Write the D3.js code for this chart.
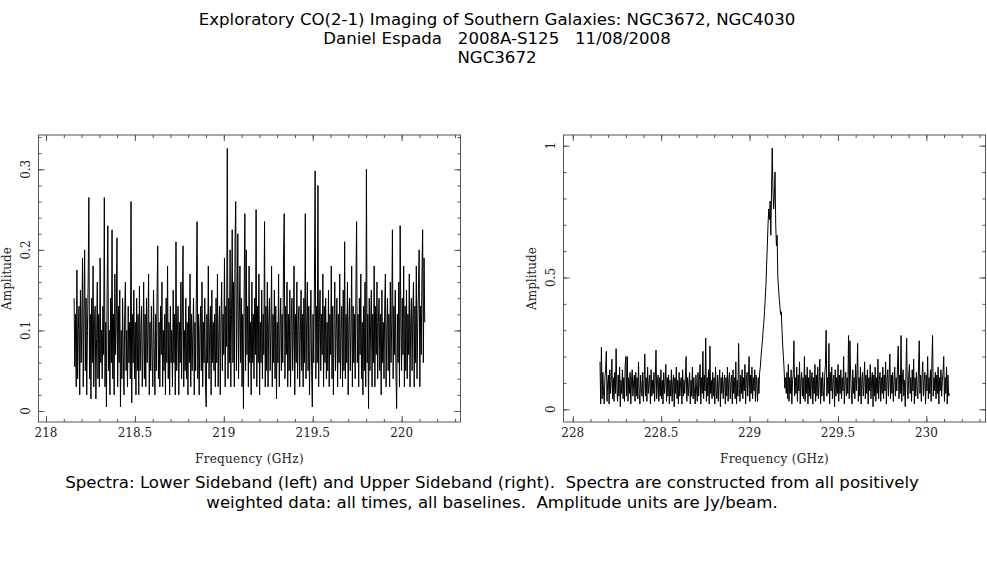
<!DOCTYPE html>
<html>
<head>
<meta charset="utf-8">
<script src="https://cdn.jsdelivr.net/npm/d3@7"></script>
<style>
  html, body { margin: 0; padding: 0; background: #fff; }
  svg { display: block; }
</style>
</head>
<body>
<svg id="chart" width="987" height="567"></svg>
<script>
const titleLines = [
  'Exploratory CO(2-1) Imaging of Southern Galaxies: NGC3672, NGC4030',
  'Daniel Espada\u00a0\u00a0\u00a02008A-S125\u00a0\u00a0\u00a011/08/2008',
  'NGC3672'
];
const captionLines = [
  'Spectra: Lower Sideband (left) and Upper Sideband (right).\u00a0\u00a0Spectra are constructed from all positively',
  'weighted data: all times, all baselines.\u00a0\u00a0Amplitude units are Jy/beam.'
];

// lower sideband: first / last channel frequency (GHz) and amplitudes (Jy/beam)
const lsbFirst = 218.158, lsbLast = 220.13;
const lsbAmp = [
  .14,.055,.12,.03,.175,.04,.1,.13,.02,.15,.06,.11,.19,.03,.12,.2,.05,.14,.02,.1,
  .16,.265,.04,.12,.015,.14,.06,.18,.03,.11,.13,.015,.09,.16,.04,.12,.03,.19,.06,.1,
  .04,.13,.07,.265,.03,.11,.005,.15,.23,.05,.1,.02,.14,.06,.225,.04,.12,.02,.17,.07,
  .11,.215,.03,.13,.06,.15,.005,.1,.04,.14,.07,.02,.12,.16,.05,.1,.03,.13,.06,.11,
  .04,.26,.01,.12,.06,.15,.04,.11,.02,.14,.05,.12,.02,.155,.05,.1,.13,.03,.08,.16,
  .04,.12,.03,.14,.06,.1,.17,.02,.11,.05,.13,.07,.03,.15,.08,.02,.12,.05,.14,.205,
  .04,.11,.03,.13,.07,.16,.03,.1,.05,.12,.02,.14,.06,.18,.04,.11,.02,.13,.06,.1,
  .03,.15,.06,.12,.02,.21,.05,.1,.13,.02,.11,.06,.16,.04,.12,.205,.03,.1,.05,.14,
  .04,.11,.02,.13,.06,.17,.03,.12,.05,.1,.14,.02,.11,.05,.15,.235,.04,.12,.02,.1,
  .13,.05,.16,.03,.11,.06,.14,.03,.005,.12,.06,.18,.04,.1,.13,.02,.15,.06,.11,.05,
  .12,.03,.14,.06,.17,.03,.1,.13,.02,.11,.16,.05,.12,.07,.19,.03,.13,.08,.326,.04,
  .14,.06,.2,.03,.12,.225,.06,.16,.03,.21,.26,.05,.13,.22,.04,.11,.18,.06,.14,.03,
  .12,.003,.15,.245,.05,.2,.07,.13,.03,.18,.06,.11,.02,.16,.06,.12,.04,.14,.07,.25,
  .03,.13,.06,.17,.02,.11,.06,.15,.04,.12,.07,.235,.03,.13,.05,.16,.03,.11,.14,.05,
  .1,.18,.03,.12,.06,.15,.04,.13,.015,.11,.06,.17,.03,.1,.14,.05,.12,.06,.19,.245,
  .04,.13,.07,.16,.03,.12,.05,.15,.03,.11,.14,.05,.1,.18,.02,.12,.06,.16,.04,.11,
  .13,.03,.1,.15,.05,.12,.03,.14,.06,.245,.04,.11,.16,.05,.13,.02,.1,.15,.05,.005,
  .12,.06,.16,.298,.04,.13,.06,.28,.03,.11,.15,.05,.12,.07,.17,.03,.13,.06,.14,.04,
  .11,.05,.15,.03,.12,.07,.18,.04,.13,.02,.11,.16,.05,.1,.14,.03,.12,.06,.17,.04,
  .1,.13,.03,.15,.05,.21,.04,.12,.06,.16,.02,.11,.14,.05,.1,.18,.03,.13,.06,.12,
  .04,.15,.235,.06,.12,.03,.14,.07,.17,.04,.11,.02,.13,.05,.16,.03,.3,.06,.12,.003,
  .14,.05,.11,.15,.03,.12,.06,.18,.03,.13,.07,.16,.04,.11,.14,.05,.12,.02,.15,.06,
  .11,.04,.13,.17,.03,.1,.14,.05,.12,.03,.16,.06,.11,.225,.04,.13,.07,.15,.05,.003,
  .12,.06,.16,.03,.23,.11,.05,.14,.07,.18,.03,.13,.05,.15,.04,.12,.07,.17,.03,.11,
  .14,.05,.12,.16,.03,.13,.06,.18,.04,.11,.15,.2,.03,.13,.07,.17,.225,.06,.19,.11
];

// upper sideband, CO(2-1) line near 229.13 GHz
const usbFirst = 228.154, usbLast = 230.13;
const usbAmp = [
  .18,.02,.235,.04,.14,.07,.02,.12,.15,.22,.03,.1,.13,.02,.15,.06,.11,.19,.04,.12,
  .03,.14,.06,.23,.09,.03,.13,.05,.16,.01,.11,.06,.15,.04,.12,.03,.17,.2,.05,.2,
  .03,.12,.06,.14,.02,.11,.15,.05,.1,.13,.03,.14,.05,.12,.04,.18,.06,.02,.13,.08,
  .05,.14,.03,.11,.21,.05,.12,.03,.16,.06,.1,.13,.02,.15,.05,.11,.06,.14,.03,.12,
  .225,.04,.1,.13,.03,.12,.05,.15,.04,.11,.02,.14,.06,.1,.17,.03,.12,.05,.13,.02,
  .11,.05,.15,.03,.1,.13,.01,.12,.06,.16,.04,.11,.02,.14,.05,.1,.12,.02,.15,.05,
  .11,.06,.13,.2,.03,.12,.05,.1,.14,.02,.11,.05,.16,.04,.12,.06,.02,.13,.07,.03,
  .14,.05,.11,.17,.02,.12,.06,.22,.04,.13,.07,.27,.03,.12,.05,.15,.02,.24,.06,.11,
  .04,.14,.05,.12,.02,.16,.07,.04,.13,.03,.11,.15,.01,.12,.06,.14,.04,.1,.13,.02,
  .12,.05,.16,.03,.11,.14,.04,.1,.13,.02,.15,.06,.12,.04,.18,.02,.11,.05,.25,.08,
  .03,.13,.06,.15,.04,.12,.07,.17,.02,.11,.14,.05,.12,.2,.03,.13,.06,.16,.04,.12,
  .07,.15,.03,.13,.09,.03,.12,.06,.14,.16,.2,.23,.26,.3,.33,.37,.42,.47,.55,.62,
  .7,.76,.72,.79,.66,.82,.991,.84,.76,.81,.9,.7,.62,.66,.5,.46,.42,.39,.36,.37,
  .3,.24,.2,.15,.08,.12,.06,.14,.04,.17,.03,.12,.06,.15,.02,.11,.13,.26,.05,.12,
  .06,.16,.03,.13,.07,.18,.02,.11,.14,.05,.12,.04,.2,.03,.13,.06,.16,.02,.12,.05,
  .15,.04,.11,.14,.02,.12,.06,.17,.03,.13,.05,.16,.04,.11,.19,.02,.12,.05,.14,.07,
  .03,.13,.17,.3,.05,.12,.06,.25,.02,.14,.07,.16,.04,.11,.13,.01,.15,.05,.12,.06,
  .17,.03,.13,.06,.15,.04,.12,.07,.2,.02,.11,.14,.05,.12,.06,.28,.04,.26,.13,.06,
  .02,.15,.06,.12,.04,.17,.07,.13,.25,.03,.12,.05,.16,.02,.11,.14,.05,.1,.18,.04,
  .13,.06,.15,.02,.12,.07,.17,.04,.11,.14,.01,.13,.05,.16,.03,.12,.06,.19,.04,.11,
  .14,.03,.12,.06,.16,.04,.13,.07,.18,.02,.11,.15,.05,.12,.21,.04,.13,.06,.14,.03,
  .11,.16,.05,.12,.07,.17,.24,.04,.13,.06,.28,.03,.12,.15,.05,.11,.01,.14,.27,.07,
  .04,.13,.17,.06,.12,.03,.15,.07,.19,.02,.12,.05,.14,.08,.04,.16,.26,.06,.13,.03,
  .12,.18,.05,.11,.14,.02,.13,.07,.2,.04,.12,.06,.15,.03,.17,.28,.05,.12,.07,.14,
  .04,.13,.06,.16,.02,.12,.07,.15,.05,.11,.14,.2,.03,.12,.06,.16,.02,.13,.05,.06
];

const lsbXTicks = [218, 218.5, 219, 219.5, 220];
const lsbYTicks = [0, 0.1, 0.2, 0.3];
const usbXTicks = [228, 228.5, 229, 229.5, 230];
const usbYTicks = [0, 0.5, 1];

const svg = d3.select('#chart');
const plotFont = 'DejaVu Serif, serif';

svg.append('rect').attr('width', 987).attr('height', 567).attr('fill', '#fff');

// header and caption
svg.append('g').selectAll('text')
  .data(titleLines)
  .join('text')
    .attr('x', 497)
    .attr('y', (d, i) => 25 + i * 19)
    .attr('text-anchor', 'middle')
    .style('font-family', 'DejaVu Sans')
    .style('font-size', '16.6px')
    .text(d => d);

svg.append('g').selectAll('text')
  .data(captionLines)
  .join('text')
    .attr('x', 492)
    .attr('y', (d, i) => 487.5 + i * 20)
    .attr('text-anchor', 'middle')
    .style('font-family', 'DejaVu Sans')
    .style('font-size', '16.6px')
    .text(d => d);

function toSpectrum(first, last, amps) {
  let step = (last - first) / (amps.length - 1);
  return amps.map((a, i) => ({ f: first + i * step, a: a }));
}

function drawPanel(opt) {
  let x = d3.scaleLinear().domain(opt.xDomain).range([opt.left, opt.right]);
  let y = d3.scaleLinear().domain(opt.yDomain).range([422, 135]);
  let g = svg.append('g');

  let minorX = d3.range(Math.ceil(opt.xDomain[0] * 10), Math.floor(opt.xDomain[1] * 10) + 1).map(v => v / 10);
  let minorY = d3.range(Math.ceil(opt.yDomain[0] / opt.yMinor), Math.floor(opt.yDomain[1] / opt.yMinor) + 1).map(v => +(v * opt.yMinor).toFixed(3));

  // inward ticks on all four sides
  let axes = [
    [d3.axisBottom(x), 422, 'x'],
    [d3.axisTop(x), 135, 'x'],
    [d3.axisLeft(y), opt.left, 'y'],
    [d3.axisRight(y), opt.right, 'y']
  ];
  axes.forEach(([ax, pos, dir]) => {
    let tr = dir === 'x' ? `translate(0,${pos})` : `translate(${pos},0)`;
    g.append('g').attr('transform', tr)
      .call(ax.tickValues(dir === 'x' ? minorX : minorY).tickSize(-3).tickFormat(''))
      .call(s => s.select('.domain').remove())
      .selectAll('line').attr('stroke', '#555');
    g.append('g').attr('transform', tr)
      .call(ax.tickValues(dir === 'x' ? opt.xTicks : opt.yTicks).tickSize(-6).tickFormat(''))
      .call(s => s.select('.domain').remove())
      .selectAll('line').attr('stroke', '#555');
  });

  // tick labels
  g.append('g').selectAll('text')
    .data(opt.xTicks)
    .join('text')
      .attr('x', d => x(d))
      .attr('y', 437)
      .attr('text-anchor', 'middle')
      .attr('fill', '#222')
      .style('font-family', plotFont)
      .style('font-size', '12px')
      .text(d => d);

  g.append('g').selectAll('text')
    .data(opt.yTicks)
    .join('text')
      .attr('transform', d => `translate(${opt.left - 8.5},${y(d)}) rotate(-90)`)
      .attr('text-anchor', 'middle')
      .attr('fill', '#222')
      .style('font-family', plotFont)
      .style('font-size', '12px')
      .text(d => d);

  g.append('text')
    .attr('x', (opt.left + opt.right) / 2)
    .attr('y', 463)
    .attr('text-anchor', 'middle')
    .attr('fill', '#222')
    .style('font-family', plotFont)
    .style('font-size', '12px')
    .style('letter-spacing', '0.3px')
    .text('Frequency (GHz)');

  g.append('text')
    .attr('transform', `translate(${opt.left - 28},${(135 + 422) / 2}) rotate(-90)`)
    .attr('text-anchor', 'middle')
    .attr('fill', '#222')
    .style('font-family', plotFont)
    .style('font-size', '12px')
    .text('Amplitude');

  // spectrum
  let line = d3.line().x(d => x(d.f)).y(d => y(d.a));
  g.append('path')
    .datum(opt.data)
    .attr('d', line)
    .attr('fill', 'none')
    .attr('stroke', '#000')
    .attr('stroke-width', 1);

  // frame
  g.append('rect')
    .attr('x', opt.left).attr('y', 135)
    .attr('width', opt.right - opt.left).attr('height', 422 - 135)
    .attr('fill', 'none')
    .attr('stroke', '#555')
    .attr('stroke-width', 1);
}

drawPanel({
  left: 38.5, right: 460.5,
  xDomain: [217.9578, 220.331],
  yDomain: [-0.01365, 0.34256],
  yMinor: 0.02,
  xTicks: lsbXTicks, yTicks: lsbYTicks,
  data: toSpectrum(lsbFirst, lsbLast, lsbAmp)
});

drawPanel({
  left: 563.5, right: 985.5,
  xDomain: [227.9475, 230.3345],
  yDomain: [-0.0482, 1.0406],
  yMinor: 0.1,
  xTicks: usbXTicks, yTicks: usbYTicks,
  data: toSpectrum(usbFirst, usbLast, usbAmp)
});
</script>
</body>
</html>
